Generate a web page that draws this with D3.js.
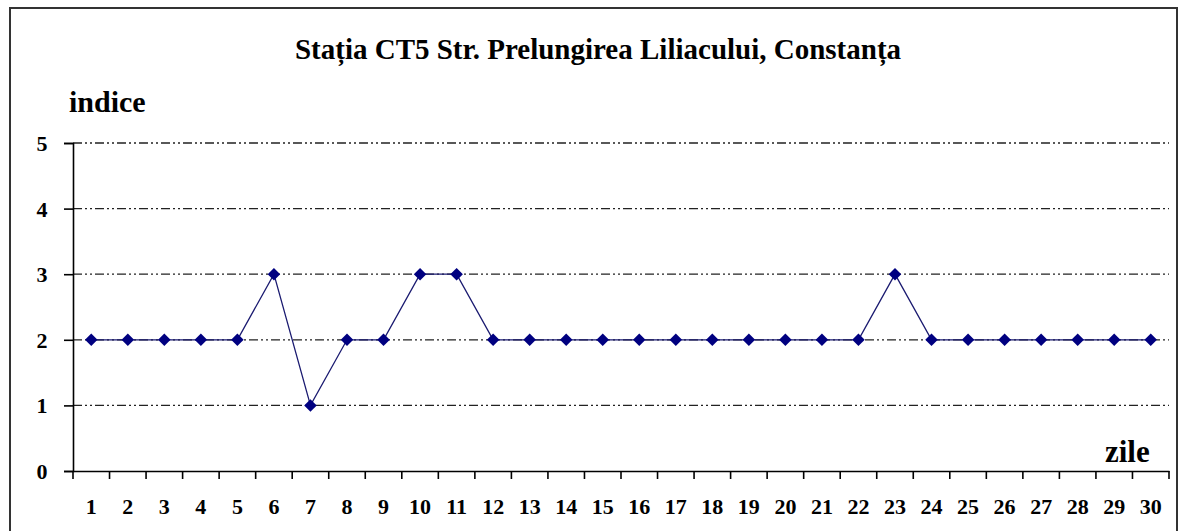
<!DOCTYPE html>
<html><head><meta charset="utf-8">
<script src="https://cdn.jsdelivr.net/npm/d3@7"></script>
<style>body{margin:0;background:#fff}svg{display:block}</style>
</head><body>
<svg id="c" width="1187" height="531"></svg>
<script>
const days = d3.range(1, 31);
const values = [2,2,2,2,2,3,1,2,2,3,3,2,2,2,2,2,2,2,2,2,2,2,3,2,2,2,2,2,2,2];
const yTicks = [0,1,2,3,4,5];
const title = "Stația CT5 Str. Prelungirea Liliacului, Constanța";
const yLabel = "indice";
const xLabel = "zile";

const svg = d3.select("#c");
const font = "'Liberation Serif','Times New Roman',serif";
const m = {left: 73, right: 1169, top: 143, bottom: 471};

svg.append("rect").attr("x", 10).attr("y", 8).attr("width", 1167).attr("height", 530)
  .attr("fill", "#fff").attr("stroke", "#333").attr("stroke-width", 2);

const x = d3.scaleBand().domain(days).range([m.left, m.right]);
const y = d3.scaleLinear().domain([0, 5]).range([m.bottom, m.top]);

// grid
svg.append("g").selectAll("line").data(yTicks.filter(d => d > 0)).join("line")
  .attr("x1", m.left).attr("x2", m.right)
  .attr("y1", d => y(d)).attr("y2", d => y(d))
  .attr("stroke", "#222").attr("stroke-width", 1.3)
  .attr("stroke-dasharray", "9,3,2,3,2,3");

// y axis
const ya = svg.append("g").attr("transform", `translate(${m.left},0)`)
  .call(d3.axisLeft(y).tickValues(yTicks).tickSize(9).tickPadding(20).tickFormat(d3.format("d")));
ya.select(".domain").attr("stroke", "#000").attr("stroke-width", 1.6);
ya.selectAll(".tick line").attr("stroke", "#000").attr("stroke-width", 1.6);
ya.selectAll("text").attr("font-family", font).attr("font-weight", "bold")
  .attr("font-size", 22).attr("fill", "#000").attr("text-anchor", "middle").attr("x", -31)
  .attr("dy", "0.34em");

// x axis
const xa = svg.append("g").attr("transform", `translate(0,${m.bottom})`)
  .call(d3.axisBottom(x).tickSize(0).tickPadding(27));
xa.select(".domain").attr("stroke", "#000").attr("stroke-width", 1.6);
xa.selectAll("text").attr("font-family", font).attr("font-weight", "bold")
  .attr("font-size", 22).attr("fill", "#000");
const bounds = days.map(d => x(d)).concat([m.right]);
svg.append("g").selectAll("line").data(bounds).join("line")
  .attr("x1", d => d).attr("x2", d => d)
  .attr("y1", m.bottom).attr("y2", m.bottom + 8)
  .attr("stroke", "#000").attr("stroke-width", 1.6);

// line
const cx = d => x(d) + x.bandwidth() / 2;
svg.append("path").datum(values)
  .attr("d", d3.line().x((d, i) => cx(days[i])).y(d => y(d)))
  .attr("fill", "none").attr("stroke", "#1a1a70").attr("stroke-width", 1.3);

svg.append("g").selectAll("path").data(values).join("path")
  .attr("transform", (d, i) => `translate(${cx(days[i])},${y(d)})`)
  .attr("d", d3.symbol(d3.symbolDiamond2, 100))
  .attr("fill", "#000080");

// texts
svg.append("text").attr("x", 598).attr("y", 59).attr("text-anchor", "middle")
  .attr("font-family", font).attr("font-weight", "bold").attr("font-size", 29).text(title);
svg.append("text").attr("x", 69).attr("y", 112)
  .attr("font-family", font).attr("font-weight", "bold").attr("font-size", 30).text(yLabel);
svg.append("text").attr("x", 1105).attr("y", 462)
  .attr("font-family", font).attr("font-weight", "bold").attr("font-size", 31).text(xLabel);
</script>
</body></html>
